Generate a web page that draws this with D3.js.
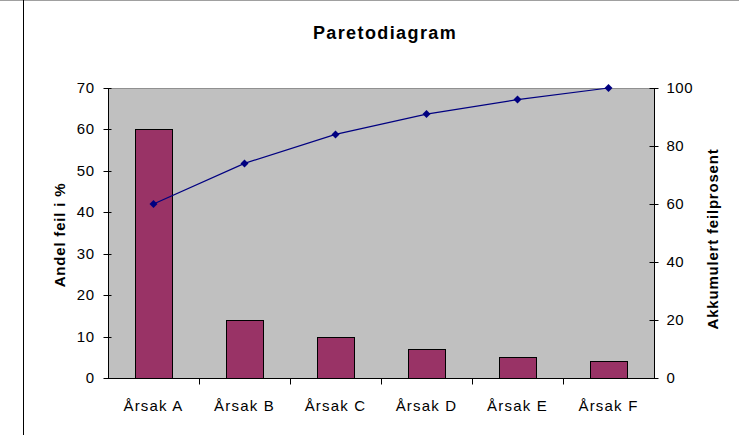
<!DOCTYPE html>
<html>
<head>
<meta charset="utf-8">
<script src="https://cdn.jsdelivr.net/npm/d3@7"></script>
<style>
  body { margin: 0; background: #fff; }
  text { font-family: Arial, "Liberation Sans", sans-serif; }
</style>
</head>
<body>
<div id="chart"></div>
<script>
var categories = ["Årsak A", "Årsak B", "Årsak C", "Årsak D", "Årsak E", "Årsak F"];
var andel = [60, 14, 10, 7, 5, 4];
var akkumulert = [60, 74, 84, 91, 96, 100];
var leftTicks = [0, 10, 20, 30, 40, 50, 60, 70];
var rightTicks = [0, 20, 40, 60, 80, 100];

var _width = 739, _height = 435;
var plotLeft = 108, plotRight = 654, plotTop = 88, plotBottom = 378;

var svg = d3.select("#chart").append("svg")
    .attr("width", _width)
    .attr("height", _height);

// frame edges
svg.append("line").attr("x1", 0).attr("x2", _width).attr("y1", 0.5).attr("y2", 0.5)
    .attr("stroke", "#a0a0a0");
svg.append("line").attr("x1", 23.5).attr("x2", 23.5).attr("y1", 0).attr("y2", _height)
    .attr("stroke", "#000");

var x = d3.scaleBand().domain(categories).range([plotLeft, plotRight]).paddingInner(0).paddingOuter(0);
var yL = d3.scaleLinear().domain([0, 70]).range([plotBottom, plotTop]);
var yR = d3.scaleLinear().domain([0, 100]).range([plotBottom, plotTop]);

svg.append("rect")
    .attr("x", plotLeft + 0.5).attr("y", plotTop + 0.5)
    .attr("width", plotRight - plotLeft).attr("height", plotBottom - plotTop)
    .attr("fill", "#c0c0c0")
    .attr("stroke", "#909090");

var barW = 37;
svg.selectAll(".bar").data(andel).enter().append("rect")
    .attr("class", "bar")
    .attr("x", function(d, i) { return Math.round(x(categories[i]) + x.bandwidth() / 2 - barW / 2) + 0.5; })
    .attr("y", function(d) { return Math.round(yL(d)) + 0.5; })
    .attr("width", barW)
    .attr("height", function(d) { return plotBottom - Math.round(yL(d)); })
    .attr("fill", "#993366")
    .attr("stroke", "#000")
    .attr("stroke-width", 1);

var line = d3.line()
    .x(function(d, i) { return x(categories[i]) + x.bandwidth() / 2; })
    .y(function(d) { return yR(d); });

svg.append("path")
    .datum(akkumulert)
    .attr("d", line)
    .attr("fill", "none")
    .attr("stroke", "#000080")
    .attr("stroke-width", 1.2);

svg.selectAll(".pt").data(akkumulert).enter().append("path")
    .attr("class", "pt")
    .attr("transform", function(d, i) {
        return "translate(" + (x(categories[i]) + x.bandwidth() / 2) + "," + yR(d) + ")";
    })
    .attr("d", "M0,-4L4,0L0,4L-4,0Z")
    .attr("fill", "#000080");

// left axis
var gL = svg.append("g").attr("transform", "translate(" + (plotLeft + 0.5) + ",0)");
gL.append("line").attr("y1", plotTop).attr("y2", plotBottom).attr("stroke", "#000");
gL.selectAll(".tk").data(leftTicks).enter().append("line")
    .attr("x1", -5).attr("x2", 3)
    .attr("y1", function(d) { return Math.round(yL(d)) + 0.5; })
    .attr("y2", function(d) { return Math.round(yL(d)) + 0.5; })
    .attr("stroke", "#000");
gL.selectAll(".lb").data(leftTicks).enter().append("text")
    .attr("x", -14).attr("y", function(d) { return yL(d) + 5; })
    .attr("text-anchor", "end")
    .style("font-size", "15px").style("letter-spacing", "0.5px")
    .text(function(d) { return d; });

// right axis
var gR = svg.append("g").attr("transform", "translate(" + (plotRight + 0.5) + ",0)");
gR.append("line").attr("y1", plotTop).attr("y2", plotBottom).attr("stroke", "#000");
gR.selectAll(".tk").data(rightTicks).enter().append("line")
    .attr("x1", -5).attr("x2", 4)
    .attr("y1", function(d) { return Math.round(yR(d)) + 0.5; })
    .attr("y2", function(d) { return Math.round(yR(d)) + 0.5; })
    .attr("stroke", "#000");
gR.selectAll(".lb").data(rightTicks).enter().append("text")
    .attr("x", 12).attr("y", function(d) { return yR(d) + 5; })
    .attr("text-anchor", "start")
    .style("font-size", "15px").style("letter-spacing", "0.5px")
    .text(function(d) { return d; });

// bottom axis
var gB = svg.append("g").attr("transform", "translate(0," + (plotBottom + 0.5) + ")");
gB.append("line").attr("x1", plotLeft).attr("x2", plotRight + 4).attr("stroke", "#000");
gB.selectAll(".tk").data(categories.slice(1)).enter().append("line")
    .attr("x1", function(d) { return Math.round(x(d)) + 0.5; })
    .attr("x2", function(d) { return Math.round(x(d)) + 0.5; })
    .attr("y1", 0).attr("y2", 6)
    .attr("stroke", "#000");
gB.selectAll(".lb").data(categories).enter().append("text")
    .attr("x", function(d) { return x(d) + x.bandwidth() / 2; })
    .attr("y", 32)
    .attr("text-anchor", "middle")
    .style("font-size", "15px").style("letter-spacing", "1.2px")
    .text(function(d) { return d; });

// titles
svg.append("text")
    .attr("x", 385).attr("y", 39)
    .attr("text-anchor", "middle")
    .style("font-size", "18px").style("font-weight", "bold").style("letter-spacing", "1.4px")
    .text("Paretodiagram");

svg.append("text")
    .attr("transform", "translate(65,235) rotate(-90)")
    .attr("text-anchor", "middle")
    .style("font-size", "15px").style("font-weight", "bold").style("letter-spacing", "0.8px")
    .text("Andel feil i %");

svg.append("text")
    .attr("transform", "translate(718,239) rotate(-90)")
    .attr("text-anchor", "middle")
    .style("font-size", "15px").style("font-weight", "bold").style("letter-spacing", "0.8px")
    .text("Akkumulert feilprosent");
</script>
</body>
</html>
